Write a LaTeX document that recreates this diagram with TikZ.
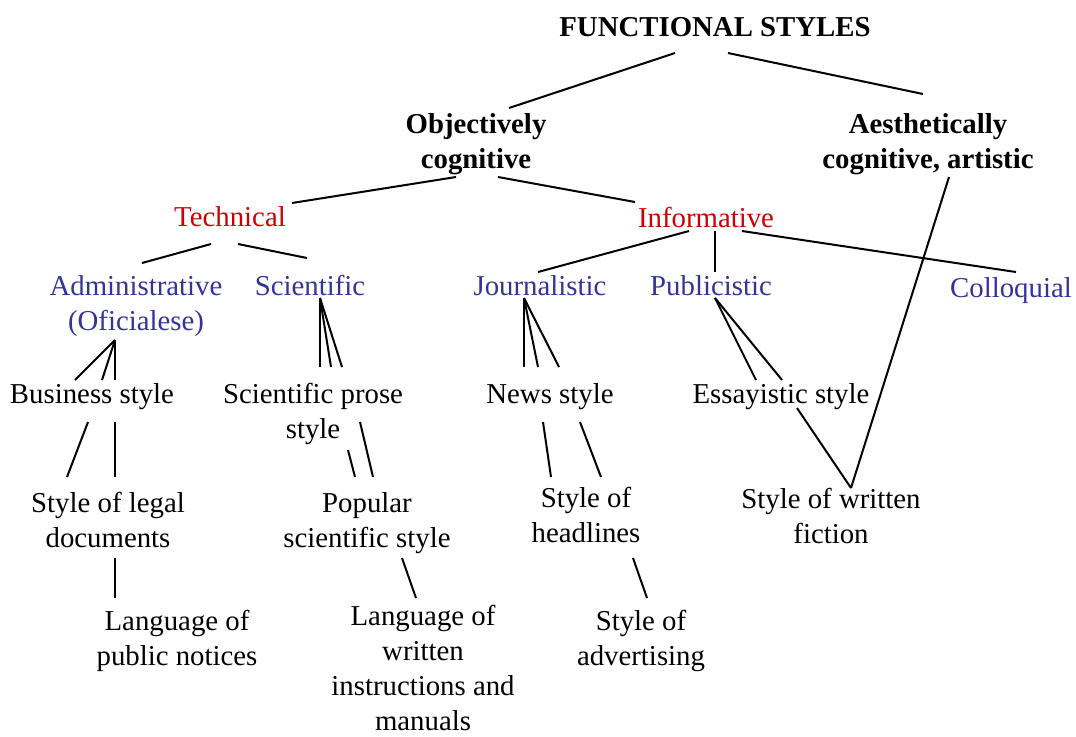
\documentclass[tikz,border=0pt]{standalone}
\usepackage{fontspec}
\setmainfont{Liberation Serif}
\definecolor{branchred}{RGB}{204,0,0}
\definecolor{kindblue}{RGB}{51,51,153}

\begin{document}
\begin{tikzpicture}[
    x=0.5pt, y=-0.5pt,
    txt/.style={font=\fontsize{14.4}{17.4}\selectfont, align=center, anchor=base, inner sep=0pt},
    main/.style={txt, font=\fontsize{14.4}{17.4}\selectfont\bfseries},
    branch/.style={txt, text=branchred},
    kind/.style={txt, text=kindblue},
    every path/.style={line width=1pt}
]
    \useasboundingbox (0,0) rectangle (1076,736);

    % Top levels (multi-line nodes sit on their last baseline)
    \node[main]   (fs)       at (715,36)   {FUNCTIONAL STYLES};
    \node[main]   (obj)      at (476,168)  {Objectively\\cognitive};
    \node[main]   (aes)      at (928,168)  {Aesthetically\\cognitive, artistic};
    \node[branch] (tech)     at (230,226)  {Technical};
    \node[branch] (inf)      at (706,227)  {Informative};

    % Kinds
    \node[kind]   (adm)      at (136,330)  {Administrative\\(Oficialese)};
    \node[kind]   (sci)      at (310,295)  {Scientific};
    \node[kind]   (jour)     at (540,295)  {Journalistic};
    \node[kind]   (pub)      at (711,295)  {Publicistic};
    \node[kind]   (col)      at (1011,297) {Colloquial};

    % Styles
    \node[txt]    (bus)      at (92,403)   {Business style};
    \node[txt]    (sciprose) at (313,438)  {Scientific prose\\style};
    \node[txt]    (news)     at (550,403)  {News style};
    \node[txt]    (essay)    at (781,403)  {Essayistic style};
    \node[txt]    (legal)    at (108,547)  {Style of legal\\documents};
    \node[txt]    (popsci)   at (367,547)  {Popular\\scientific style};
    \node[txt]    (headl)    at (586,542)  {Style of\\headlines};
    \node[txt]    (fiction)  at (831,543)  {Style of written\\fiction};
    \node[txt]    (notices)  at (177,665)  {Language of\\public notices};
    \node[txt]    (manuals)  at (423,730)  {Language of\\written\\instructions and\\manuals};
    \node[txt]    (advert)   at (641,665)  {Style of\\advertising};

    % Upper branches
    \draw ([shift={(-40,17)}]fs.base) -- ([shift={(33,-60)}]obj.base);
    \draw ([shift={(13,17)}]fs.base) -- ([shift={(-5,-74)}]aes.base);
    \draw ([shift={(-20,9)}]obj.base) -- ([shift={(62,-23)}]tech.base);
    \draw ([shift={(22,9)}]obj.base) -- ([shift={(-71,-25)}]inf.base);
    \draw ([shift={(21,9)}]aes.base) -- ([shift={(20,-55)}]fiction.base);

    \draw ([shift={(-19,18)}]tech.base) -- ([shift={(6,-67)}]adm.base);
    \draw ([shift={(8,18)}]tech.base) -- ([shift={(-3,-37)}]sci.base);
    \draw ([shift={(-17,4)}]inf.base) -- ([shift={(-2,-23)}]jour.base);
    \draw ([shift={(9,4)}]inf.base) -- ([shift={(4,-23)}]pub.base);
    \draw ([shift={(36,4)}]inf.base) -- ([shift={(5,-25)}]col.base);

    % Fans
    \foreach \dx in {-17,10,23}
        \draw ([shift={(-21,10)}]adm.base) -- ([shift={(\dx,-23)}]bus.base);
    \foreach \dx in {7,18,29}
        \draw ([shift={(10,3)}]sci.base) -- ([shift={(\dx,-71)}]sciprose.base);
    \foreach \dx in {-26,-12,9}
        \draw ([shift={(-16,3)}]jour.base) -- ([shift={(\dx,-36)}]news.base);
    \foreach \dx in {-25,1}
        \draw ([shift={(4,3)}]pub.base) -- ([shift={(\dx,-23)}]essay.base);

    % Lower links
    \draw ([shift={(16,5)}]essay.base) -- ([shift={(20,-55)}]fiction.base);
    \draw ([shift={(-4,19)}]bus.base) -- ([shift={(-41,-70)}]legal.base);
    \draw ([shift={(23,19)}]bus.base) -- ([shift={(7,-70)}]legal.base);
    \draw ([shift={(35,12)}]sciprose.base) -- ([shift={(-12,-70)}]popsci.base);
    \draw ([shift={(47,-16)}]sciprose.base) -- ([shift={(6,-70)}]popsci.base);
    \draw ([shift={(-7,19)}]news.base) -- ([shift={(-35,-65)}]headl.base);
    \draw ([shift={(30,19)}]news.base) -- ([shift={(15,-65)}]headl.base);
    \draw ([shift={(7,11)}]legal.base) -- ([shift={(-62,-67)}]notices.base);
    \draw ([shift={(35,11)}]popsci.base) -- ([shift={(-7,-132)}]manuals.base);
    \draw ([shift={(47,16)}]headl.base) -- ([shift={(6,-67)}]advert.base);
\end{tikzpicture}
\end{document}
